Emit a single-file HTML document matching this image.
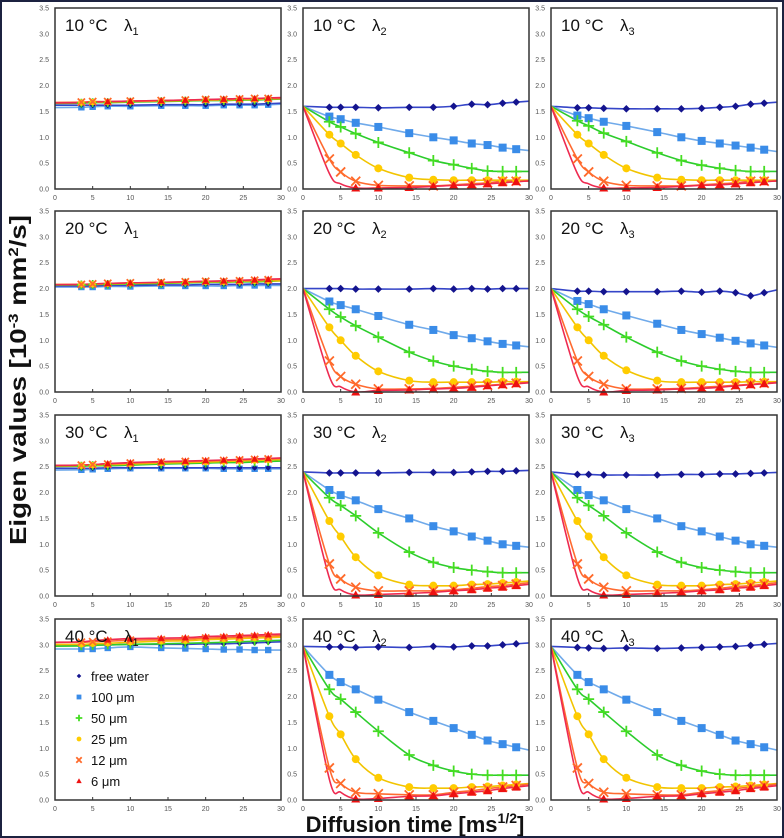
<!DOCTYPE html>
<html><head><meta charset="utf-8"><style>
html,body{margin:0;padding:0;background:#fff;}
#wrap{position:relative;width:784px;height:838px;box-sizing:border-box;border:2px solid #1c2240;overflow:hidden;}
svg{position:absolute;left:0;top:0;}
</style></head><body>
<div id="wrap">
<svg id="chart" width="784" height="838"></svg>
</div>
<script>
// ---- data ----
const xTimes = [3.5, 5, 7, 10, 14.1, 17.3, 20, 22.4, 24.5, 26.5, 28.3];
const temps = ['10 °C', '20 °C', '30 °C', '40 °C'];
const d0 = [1.6, 2.0, 2.4, 2.97];
const seriesNames = ['free water', '100 μm', '50 μm', '25 μm', '12 μm', '6 μm'];
const markerStart = [0, 0, 0, 0, 0, 2];
const xTicks = [0, 5, 10, 15, 20, 25, 30];
const yTicks = [0, 0.5, 1.0, 1.5, 2.0, 2.5, 3.0, 3.5];

// lambda1 per temperature
const l1_10 = [[1.62,1.62,1.62,1.62,1.63,1.63,1.63,1.64,1.64,1.64,1.65],[1.58,1.59,1.6,1.6,1.61,1.61,1.61,1.62,1.62,1.62,1.63],[1.66,1.67,1.67,1.68,1.69,1.7,1.71,1.71,1.72,1.72,1.73],[1.67,1.68,1.68,1.69,1.7,1.71,1.72,1.72,1.73,1.73,1.74],[1.68,1.69,1.69,1.7,1.71,1.72,1.73,1.73,1.74,1.75,1.75],[1.67,1.68,1.69,1.7,1.71,1.72,1.73,1.74,1.75,1.75,1.76]];
const l1_20 = [[2.05,2.05,2.06,2.06,2.07,2.07,2.08,2.08,2.08,2.09,2.09],[2.03,2.03,2.04,2.04,2.05,2.05,2.05,2.05,2.06,2.06,2.06],[2.07,2.08,2.08,2.09,2.1,2.11,2.12,2.12,2.13,2.13,2.14],[2.08,2.08,2.09,2.1,2.11,2.12,2.13,2.13,2.14,2.15,2.15],[2.08,2.09,2.1,2.11,2.12,2.13,2.14,2.14,2.15,2.16,2.17],[2.08,2.09,2.1,2.11,2.12,2.13,2.14,2.15,2.16,2.17,2.18]];
const l1_30 = [[2.47,2.47,2.48,2.48,2.48,2.48,2.48,2.48,2.48,2.48,2.48],[2.44,2.45,2.46,2.47,2.47,2.47,2.47,2.46,2.46,2.46,2.46],[2.51,2.52,2.52,2.53,2.55,2.56,2.57,2.58,2.58,2.59,2.6],[2.52,2.53,2.54,2.55,2.57,2.58,2.59,2.6,2.61,2.62,2.63],[2.53,2.54,2.55,2.57,2.59,2.6,2.61,2.62,2.63,2.64,2.65],[2.53,2.54,2.56,2.58,2.6,2.61,2.62,2.63,2.64,2.65,2.66]];
const l1_40 = [[3.0,3.0,3.0,3.01,3.01,3.01,3.02,3.02,3.03,3.04,3.05],[2.92,2.92,2.94,2.96,2.94,2.93,2.92,2.91,2.91,2.9,2.9],[2.98,2.99,3.0,3.01,3.02,3.03,3.04,3.05,3.06,3.07,3.08],[3.01,3.02,3.03,3.05,3.07,3.08,3.1,3.11,3.12,3.13,3.14],[3.05,3.06,3.07,3.09,3.1,3.11,3.13,3.14,3.15,3.16,3.17],[3.06,3.08,3.1,3.12,3.13,3.14,3.16,3.17,3.18,3.19,3.2]];

// lambda2 per temperature
const l2_10 = [[1.58,1.58,1.58,1.57,1.58,1.58,1.6,1.64,1.63,1.66,1.68],[1.4,1.35,1.28,1.2,1.08,1.0,0.94,0.88,0.85,0.8,0.77],[1.3,1.2,1.07,0.9,0.7,0.55,0.47,0.4,0.35,0.34,0.34],[1.05,0.88,0.66,0.4,0.22,0.18,0.17,0.17,0.17,0.17,0.17],[0.58,0.33,0.15,0.07,0.06,0.06,0.08,0.1,0.12,0.15,0.15],[0.3,0.1,0.02,0.02,0.03,0.05,0.07,0.08,0.1,0.12,0.14]];
const l2_20 = [[2.0,2.0,1.99,1.99,1.99,2.0,1.99,2.0,1.99,2.0,2.0],[1.75,1.68,1.6,1.47,1.3,1.2,1.1,1.04,0.98,0.93,0.9],[1.6,1.45,1.28,1.06,0.77,0.6,0.5,0.44,0.4,0.38,0.38],[1.25,1.0,0.7,0.4,0.22,0.19,0.19,0.19,0.19,0.2,0.2],[0.6,0.3,0.15,0.06,0.06,0.07,0.09,0.11,0.13,0.15,0.17],[0.3,0.1,0.0,0.03,0.04,0.06,0.07,0.09,0.12,0.14,0.16]];
const l2_30 = [[2.38,2.38,2.38,2.38,2.39,2.39,2.39,2.4,2.41,2.41,2.42],[2.05,1.95,1.85,1.68,1.5,1.35,1.25,1.15,1.07,1.0,0.97],[1.9,1.75,1.55,1.22,0.85,0.65,0.55,0.5,0.47,0.45,0.45],[1.45,1.15,0.75,0.4,0.22,0.2,0.2,0.22,0.23,0.25,0.27],[0.62,0.33,0.17,0.1,0.1,0.1,0.12,0.15,0.18,0.2,0.23],[0.35,0.12,0.02,0.03,0.05,0.07,0.1,0.12,0.15,0.17,0.2]];
const l2_40 = [[2.96,2.96,2.95,2.96,2.95,2.97,2.96,2.98,2.98,3.0,3.02],[2.42,2.28,2.14,1.94,1.7,1.53,1.39,1.26,1.15,1.08,1.02],[2.14,1.95,1.7,1.33,0.87,0.67,0.56,0.5,0.48,0.48,0.48],[1.62,1.27,0.79,0.43,0.25,0.23,0.23,0.25,0.26,0.28,0.3],[0.62,0.32,0.15,0.12,0.1,0.1,0.15,0.18,0.22,0.25,0.28],[0.4,0.15,0.02,0.03,0.07,0.08,0.12,0.15,0.18,0.22,0.25]];

// lambda3 per temperature
const l3_10 = [[1.57,1.57,1.56,1.55,1.55,1.55,1.56,1.58,1.6,1.64,1.66],[1.42,1.37,1.3,1.22,1.1,1.0,0.93,0.88,0.84,0.8,0.76],[1.32,1.22,1.08,0.92,0.7,0.55,0.46,0.4,0.36,0.34,0.34],[1.05,0.88,0.66,0.4,0.22,0.18,0.17,0.17,0.17,0.17,0.17],[0.58,0.33,0.15,0.07,0.06,0.06,0.08,0.1,0.12,0.15,0.15],[0.3,0.1,0.02,0.02,0.03,0.05,0.07,0.08,0.1,0.12,0.14]];
const l3_20 = [[1.95,1.95,1.94,1.94,1.94,1.95,1.93,1.95,1.92,1.86,1.92],[1.76,1.7,1.6,1.48,1.32,1.2,1.12,1.05,0.99,0.94,0.9],[1.6,1.46,1.3,1.06,0.77,0.6,0.5,0.44,0.4,0.38,0.38],[1.25,1.0,0.7,0.42,0.22,0.19,0.19,0.19,0.19,0.2,0.2],[0.6,0.3,0.15,0.06,0.06,0.07,0.09,0.11,0.13,0.15,0.17],[0.3,0.1,0.0,0.03,0.04,0.06,0.07,0.09,0.12,0.14,0.16]];
const l3_30 = [[2.35,2.35,2.34,2.34,2.34,2.35,2.35,2.36,2.36,2.37,2.38],[2.05,1.95,1.85,1.68,1.5,1.35,1.25,1.15,1.07,1.0,0.97],[1.9,1.75,1.55,1.22,0.85,0.65,0.55,0.5,0.47,0.45,0.45],[1.45,1.15,0.75,0.4,0.22,0.2,0.2,0.22,0.23,0.25,0.27],[0.62,0.33,0.17,0.1,0.1,0.1,0.12,0.15,0.18,0.2,0.23],[0.35,0.12,0.02,0.03,0.05,0.07,0.1,0.12,0.15,0.17,0.2]];
const l3_40 = [[2.95,2.94,2.93,2.94,2.93,2.94,2.95,2.96,2.97,2.99,3.01],[2.42,2.28,2.14,1.94,1.7,1.53,1.39,1.26,1.15,1.08,1.02],[2.14,1.95,1.7,1.33,0.87,0.67,0.56,0.5,0.48,0.48,0.48],[1.62,1.27,0.79,0.43,0.25,0.23,0.23,0.25,0.26,0.28,0.3],[0.62,0.32,0.15,0.12,0.1,0.1,0.15,0.18,0.22,0.25,0.28],[0.4,0.15,0.02,0.03,0.07,0.08,0.12,0.15,0.18,0.22,0.25]];

const panelData = [[l1_10,l2_10,l3_10],[l1_20,l2_20,l3_20],[l1_30,l2_30,l3_30],[l1_40,l2_40,l3_40]];

// ---- layout / style ----
const colX = [53, 301, 549], plotW = 226;
const rowY = [6, 209, 413, 617], plotH = 181;
const markColors = ['#14148e', '#3a8ce8', '#44dd22', '#ffcc00', '#ff6a2a', '#ee1111'];
const lineColors = ['#3545c8', '#70aaea', '#2ccc2c', '#f2c400', '#ff6a30', '#ee2a50'];
const NS = 'http://www.w3.org/2000/svg';
const svg = document.getElementById('chart');
function mk(tag, attrs, parent) { const e = document.createElementNS(NS, tag); for (const k in attrs) e.setAttribute(k, attrs[k]); (parent || svg).appendChild(e); return e; }

function pathThrough(pts) {
  let d = 'M' + pts[0][0].toFixed(2) + ',' + pts[0][1].toFixed(2);
  for (let i = 0; i < pts.length - 1; i++) {
    const p0 = pts[Math.max(0, i - 1)], p1 = pts[i], p2 = pts[i + 1], p3 = pts[Math.min(pts.length - 1, i + 2)];
    const c1 = [p1[0] + (p2[0] - p0[0]) / 6, p1[1] + (p2[1] - p0[1]) / 6];
    const c2 = [p2[0] - (p3[0] - p1[0]) / 6, p2[1] - (p3[1] - p1[1]) / 6];
    d += ' C' + c1.map(v => v.toFixed(2)).join(',') + ' ' + c2.map(v => v.toFixed(2)).join(',') + ' ' + p2[0].toFixed(2) + ',' + p2[1].toFixed(2);
  }
  return d;
}

function marker(g, s, cx, cy, k) {
  k = k || 1;
  const c = markColors[s];
  let m;
  if (s === 0) m = mk('polygon', {points: `${cx},${cy-3.8*k} ${cx+3.8*k},${cy} ${cx},${cy+3.8*k} ${cx-3.8*k},${cy}`, fill: c}, g);
  else if (s === 1) m = mk('rect', {x: cx-4*k, y: cy-4*k, width: 8*k, height: 8*k, fill: c}, g);
  else if (s === 2) m = mk('path', {d: `M${cx-5.5*k},${cy}H${cx+5.5*k}M${cx},${cy-5.5*k}V${cy+5.5*k}`, stroke: c, 'stroke-width': 1.8}, g);
  else if (s === 3) m = mk('circle', {cx: cx, cy: cy, r: 4*k, fill: c}, g);
  else if (s === 4) m = mk('path', {d: `M${cx-4.5*k},${cy-4.5*k}L${cx+4.5*k},${cy+4.5*k}M${cx+4.5*k},${cy-4.5*k}L${cx-4.5*k},${cy+4.5*k}`, stroke: c, 'stroke-width': 1.8}, g);
  else m = mk('polygon', {points: `${cx},${cy-4.5*k} ${cx+4.5*k},${cy+3.5*k} ${cx-4.5*k},${cy+3.5*k}`, fill: c}, g);
  
  
}

const subs = ['1', '2', '3'];
for (let r = 0; r < 4; r++) {
  for (let c = 0; c < 3; c++) {
    const px = colX[c], py = rowY[r];
    const xs = v => px + v / 30 * plotW;
    const ys = v => py + plotH - v / 3.5 * plotH;
    const g = mk('g', {});
    
    
    mk('rect', {x: px, y: py, width: plotW, height: plotH, fill: '#fff'}, g);
    for (const t of yTicks) {
      const tl = mk('text', {x: px - 6, y: ys(t) + 2.5, 'font-size': 7, fill: '#555', 'text-anchor': 'end', 'font-family': 'Liberation Sans, sans-serif'}, g);
      tl.textContent = t.toFixed(1);
      
      
    }
    for (const t of xTicks) {
      const tl = mk('text', {x: xs(t), y: py + plotH + 11, 'font-size': 7, fill: '#555', 'text-anchor': 'middle', 'font-family': 'Liberation Sans, sans-serif'}, g);
      tl.textContent = t;
      
      
      mk('line', {x1: xs(t), x2: xs(t), y1: py + plotH, y2: py + plotH - 3, stroke: '#333', 'stroke-width': 1}, g);
    }
    const data = panelData[r][c];
    const order = c === 0 ? [1, 0, 2, 3, 4, 5] : [0, 1, 2, 3, 4, 5];
    const clip = 'clip' + r + c;
    const cp = mk('clipPath', {id: clip}, g); mk('rect', {x: px, y: py, width: plotW, height: plotH}, cp);
    for (const s of order) {
      const vals = data[s];
      const start = c === 0 ? vals[0] - (vals[1] - vals[0]) * 0.5 : d0[r];
      const pts = [[xs(0), ys(start)]];
      vals.forEach((v, i) => pts.push([xs(xTimes[i]), ys(v)]));
      const last = vals[vals.length - 1], prev = vals[vals.length - 2];
      pts.push([xs(30), ys(last + (last - prev) * 0.9)]);
      const ln = mk('path', {d: pathThrough(pts), fill: 'none', stroke: lineColors[s], 'stroke-width': 1.6, 'clip-path': `url(#${clip})`}, g);
      
      
    }
    const mscale = c === 0 ? 0.8 : 1;
    for (const s of order) data[s].forEach((v, i) => { if (i >= markerStart[s]) marker(g, s, xs(xTimes[i]), ys(v), mscale); });
    mk('rect', {x: px, y: py, width: plotW, height: plotH, fill: 'none', stroke: '#333', 'stroke-width': 1.5}, g);
    const tt = mk('text', {x: px + 10, y: py + 23, 'font-size': 17, fill: '#111', 'font-family': 'Liberation Sans, sans-serif'}, g);
    tt.innerHTML = temps[r] + '<tspan x="' + (px + 69) + '">λ</tspan><tspan font-size="11" dy="4">' + subs[c] + '</tspan>';
    
    
  }
}

// legend in bottom-left panel
const lg = mk('g', {});


seriesNames.forEach((n, s) => {
  const y = 674 + s * 21;
  marker(lg, s, 77, y, 0.6);
  const t = mk('text', {x: 89, y: y + 5, 'font-size': 13, fill: '#111', 'font-family': 'Liberation Sans, sans-serif'}, lg);
  t.textContent = n;
  
  
});

const yt = mk('text', {x: 0, y: 0, transform: 'translate(24,378) rotate(-90)', 'font-size': 23, 'font-weight': 'bold', fill: '#111', 'text-anchor': 'middle', 'font-family': 'Liberation Sans, sans-serif', textLength: 330, lengthAdjust: 'spacingAndGlyphs'});
yt.innerHTML = 'Eigen values [10<tspan font-size="14" dy="-8">-3</tspan><tspan dy="8"> mm</tspan><tspan font-size="14" dy="-8">2</tspan><tspan dy="8">/s]</tspan>';


const xt = mk('text', {x: 413, y: 830, 'font-size': 22, 'font-weight': 'bold', fill: '#111', 'text-anchor': 'middle', 'font-family': 'Liberation Sans, sans-serif'});
xt.innerHTML = 'Diffusion time [ms<tspan font-size="14" dy="-9">1/2</tspan><tspan dy="9">]</tspan>';


</script>
</body></html>
